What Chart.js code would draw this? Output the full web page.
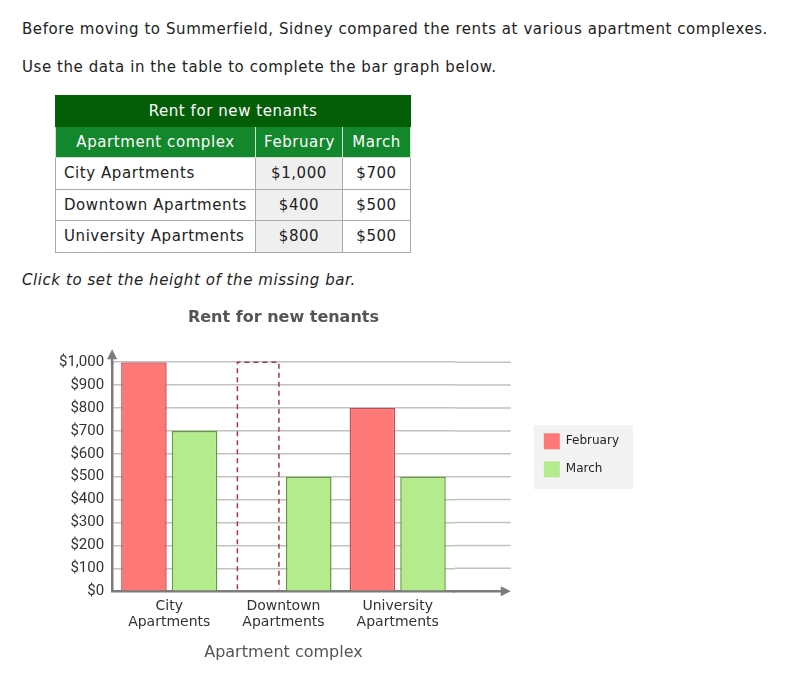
<!DOCTYPE html>
<html>
<head>
<meta charset="utf-8">
<title>Rent for new tenants</title>
<script src="https://cdn.jsdelivr.net/npm/chart.js@4.4.1/dist/chart.umd.min.js"></script>
<style>
  body {
    margin: 0;
    width: 787px;
    height: 677px;
    position: relative;
    overflow: hidden;
    background: #fff;
    color: #222;
    font-family: "DejaVu Sans", Verdana, sans-serif;
    letter-spacing: 0.57px;
  }
  .line {
    position: absolute;
    left: 22px;
    font-size: 15px;
    line-height: 20px;
    white-space: nowrap;
  }
  #intro { top: 19px; }
  #task { top: 57px; }
  #hint { top: 270px; font-style: italic; }

  table {
    position: absolute;
    left: 55px;
    top: 95px;
    width: 355px;
    border-collapse: collapse;
    table-layout: fixed;
    font-size: 15px;
  }
  th, td {
    height: 30px;
    padding: 0 8px;
    border: 1px solid #aaa;
    font-weight: normal;
    white-space: nowrap;
  }
  td { height: 30.6px; text-align: center; }
  th { color: #fff; text-align: center; }
  tr.caption th { background: #045e07; border-color: #045e07; }
  tr.heads th { background: #13872b; border-color: #cfe3cf; border-top-color: #13872b; }
  td.name { text-align: left; }
  td.feb { background: #efefef; }

  #chartBox {
    position: absolute;
    left: 0;
    top: 290px;
    width: 787px;
    height: 387px;
    letter-spacing: 0;
  }
</style>
</head>
<body>
<div class="line" id="intro">Before moving to Summerfield, Sidney compared the rents at various apartment complexes.</div>
<div class="line" id="task">Use the data in the table to complete the bar graph below.</div>

<table id="rentTable">
  <colgroup><col style="width:200px"><col style="width:87px"><col style="width:68px"></colgroup>
  <tr class="caption"><th colspan="3">Rent for new tenants</th></tr>
  <tr class="heads"><th>Apartment complex</th><th>February</th><th>March</th></tr>
</table>

<div class="line" id="hint">Click to set the height of the missing bar.</div>

<div id="chartBox"><canvas id="rentChart"></canvas></div>

<script>
// data
const categories = ['City Apartments', 'Downtown Apartments', 'University Apartments'];
const february = [1000, 400, 800];
const march = [700, 500, 500];
const missingIndex = 1; // Downtown / February is the bar left to set
const yMin = 0;
const yMax = 1000;
const yStep = 100;

const febFill = '#ff7878';
const febLine = '#c9474d';
const marFill = '#b4eb8c';
const marLine = '#5f9d3b';
const gridColor = '#c2c2c2';
const axisColor = '#7b7b7b';

const money = v => '$' + v.toLocaleString('en-US');

// fill the table
const table = document.getElementById('rentTable');
categories.forEach((name, i) => {
  const tr = document.createElement('tr');
  tr.innerHTML = '<td class="name">' + name + '</td>' +
    '<td class="feb">' + money(february[i]) + '</td>' +
    '<td>' + money(march[i]) + '</td>';
  table.appendChild(tr);
});

Chart.defaults.font.family = '"DejaVu Sans", Verdana, sans-serif';
Chart.defaults.color = '#333';

// dashed outline where the missing bar goes
const placeholderBar = {
  id: 'placeholderBar',
  afterDatasetsDraw(chart) {
    const { ctx, scales: { x, y } } = chart;
    const ref = chart.getDatasetMeta(0).data[0];
    const offset = ref.x - x.getPixelForValue(0);
    const w = ref.width - 4;
    const cx = x.getPixelForValue(missingIndex) + offset;
    const top = y.getPixelForValue(yMax);
    const base = y.getPixelForValue(yMin) - 2;
    ctx.save();
    ctx.strokeStyle = '#a8344f';
    ctx.lineWidth = 1.5;
    ctx.setLineDash([5, 4]);
    ctx.beginPath();
    ctx.moveTo(cx - w / 2, base);
    ctx.lineTo(cx - w / 2, top);
    ctx.lineTo(cx + w / 2, top);
    ctx.lineTo(cx + w / 2, base);
    ctx.stroke();
    ctx.restore();
  }
};

// gridlines run on past the last group, plus axis arrows
const axisExtras = {
  id: 'axisExtras',
  beforeDatasetsDraw(chart) {
    const { ctx, chartArea: a, scales: { y } } = chart;
    const end = a.right + 56;
    ctx.save();
    ctx.strokeStyle = gridColor;
    ctx.lineWidth = 1.5;
    y.ticks.forEach(t => {
      if (t.value === yMin) return;
      const py = y.getPixelForValue(t.value);
      ctx.beginPath();
      ctx.moveTo(a.right, py);
      ctx.lineTo(end, py);
      ctx.stroke();
    });
    ctx.strokeStyle = axisColor;
    ctx.fillStyle = axisColor;
    ctx.lineWidth = 2.5;
    ctx.beginPath();
    ctx.moveTo(a.right - 2, a.bottom);
    ctx.lineTo(end - 8, a.bottom);
    ctx.moveTo(a.left, a.top + 2);
    ctx.lineTo(a.left, a.top - 6);
    ctx.stroke();
    ctx.beginPath();
    ctx.moveTo(end, a.bottom);
    ctx.lineTo(end - 10, a.bottom - 5);
    ctx.lineTo(end - 10, a.bottom + 5);
    ctx.closePath();
    ctx.fill();
    ctx.beginPath();
    ctx.moveTo(a.left, a.top - 13);
    ctx.lineTo(a.left - 5, a.top - 3);
    ctx.lineTo(a.left + 5, a.top - 3);
    ctx.closePath();
    ctx.fill();
    ctx.restore();
  }
};

// move the legend off to the side and give it a grey panel
const legendPanel = {
  id: 'legendPanel',
  afterLayout(chart) {
    const lg = chart.legend;
    const pad = lg.options.labels.padding;
    const dx = chart.chartArea.right + 89 - (lg.left + pad);
    const dy = chart.chartArea.top + 71 - (lg.top + pad);
    lg.left += dx; lg.right += dx;
    lg.top += dy; lg.bottom += dy;
  },
  beforeDraw(chart) {
    const boxes = chart.legend.legendHitBoxes;
    if (!boxes || !boxes.length) return;
    const left = Math.min(...boxes.map(b => b.left)) - 10;
    const top = Math.min(...boxes.map(b => b.top)) - 8;
    const right = Math.max(...boxes.map(b => b.left + b.width)) + 14;
    const bottom = Math.max(...boxes.map(b => b.top + b.height)) + 12;
    const ctx = chart.ctx;
    ctx.save();
    ctx.fillStyle = '#f3f3f3';
    ctx.fillRect(left, top, right - left, bottom - top);
    ctx.restore();
  }
};

new Chart(document.getElementById('rentChart'), {
  type: 'bar',
  data: {
    labels: categories,
    datasets: [{
      label: 'February',
      data: february.map((v, i) => i === missingIndex ? null : v),
      backgroundColor: febFill,
      borderColor: febLine,
      borderWidth: 1.5
    }, {
      label: 'March',
      data: march,
      backgroundColor: marFill,
      borderColor: marLine,
      borderWidth: 1.5
    }]
  },
  options: {
    responsive: true,
    maintainAspectRatio: false,
    animation: false,
    categoryPercentage: 0.886,
    barPercentage: 0.9,
    layout: {
      padding: { left: 51, right: 235, top: 0, bottom: 10.6 }
    },
    plugins: {
      title: {
        display: true,
        fullSize: false,
        text: 'Rent for new tenants',
        color: '#555',
        font: { size: 16, weight: 'bold' },
        padding: { top: 18, bottom: 35 }
      },
      legend: {
        position: 'right',
        align: 'start',
        labels: {
          boxWidth: 16,
          boxHeight: 16,
          padding: 12,
          color: '#222',
          font: { size: 12 },
          generateLabels(chart) {
            return Chart.defaults.plugins.legend.labels.generateLabels(chart)
              .map(item => Object.assign(item, { lineWidth: 0 }));
          }
        }
      },
      tooltip: { enabled: false }
    },
    scales: {
      x: {
        grid: { display: false, drawTicks: false },
        border: { color: axisColor, width: 2.5 },
        ticks: {
          padding: 7,
          color: '#333',
          font: { size: 14, lineHeight: 1.143 },
          callback(value) {
            return categories[value].split(' ');
          }
        },
        title: {
          display: true,
          text: 'Apartment complex',
          color: '#555',
          font: { size: 16 },
          padding: { top: 6, bottom: 4 }
        }
      },
      y: {
        min: yMin,
        max: yMax,
        grid: { color: gridColor, lineWidth: 1.5, drawTicks: false },
        border: { color: axisColor, width: 2.5 },
        ticks: {
          stepSize: yStep,
          padding: 8,
          color: '#333',
          font: { family: 'Roboto', size: 15 },
          callback: v => money(v)
        }
      }
    }
  },
  plugins: [placeholderBar, axisExtras, legendPanel]
});
</script>
</body>
</html>
